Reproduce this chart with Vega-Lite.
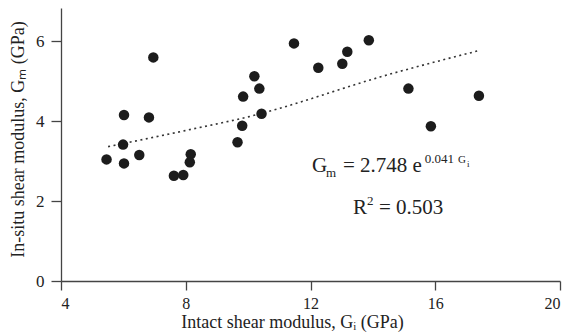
{
  "$schema": "https://vega.github.io/schema/vega-lite/v6.json",
  "width": 499,
  "height": 273,
  "autosize": {"type": "none"},
  "padding": {"left": 61, "top": 8, "right": 14, "bottom": 55},
  "background": "white",
  "config": {
    "view": {"stroke": null},
    "font": "Liberation Serif",
    "axis": {
      "grid": false,
      "domainColor": "#444",
      "tickColor": "#444",
      "domainWidth": 1.3,
      "tickWidth": 1.3,
      "labelColor": "#222",
      "titleColor": "#222",
      "labelFont": "Liberation Serif",
      "titleFont": "Liberation Serif",
      "labelFontSize": 17,
      "titleFontSize": 18,
      "titleFontWeight": "normal",
      "tickSize": 9
    }
  },
  "encoding": {
    "x": {
      "field": "x", "type": "quantitative",
      "scale": {"domain": [4, 20], "nice": false, "zero": false},
      "axis": {"values": [4, 8, 12, 16, 20], "labelPadding": 5, "labelFontSize": 16, "labelFont": "Liberation Serif",
        "title": "Intact shear modulus, Gᵢ (GPa)", "titleFont": "Liberation Serif",
        "titleX": 231, "titleY": 46, "titleBaseline": "alphabetic", "titleAlign": "center"}
    },
    "y": {
      "field": "y", "type": "quantitative",
      "scale": {"domain": [0, 6.825], "nice": false, "zero": false},
      "axis": {"values": [0, 2, 4, 6], "labelPadding": 7, "tickSize": 10, "labelFont": "Liberation Serif",
        "title": "In-situ shear modulus, Gₘ (GPa)", "titleFont": "Liberation Serif",
        "titleX": -43, "titleY": 131, "titleBaseline": "middle", "titleAlign": "center", "titleAngle": -90}
    }
  },
  "layer": [
    {
      "data": {"values": [
        {"x": 5.51, "y": 3.36},
        {"x": 7.98, "y": 3.76},
        {"x": 10.38, "y": 4.18},
        {"x": 11.02, "y": 4.32},
        {"x": 14.23, "y": 5.1},
        {"x": 17.4, "y": 5.76}
      ]},
      "mark": {"type": "line", "color": "#333", "strokeWidth": 1.6, "strokeDash": [2, 3.5], "interpolate": "monotone"}
    },
    {
      "data": {"values": [
        {"x": 6.96, "y": 5.59},
        {"x": 6.02, "y": 4.15},
        {"x": 6.82, "y": 4.09},
        {"x": 5.99, "y": 3.41},
        {"x": 5.46, "y": 3.04},
        {"x": 6.02, "y": 2.94},
        {"x": 6.51, "y": 3.15},
        {"x": 8.16, "y": 3.17},
        {"x": 8.13, "y": 2.97},
        {"x": 9.84, "y": 4.61},
        {"x": 9.81, "y": 3.88},
        {"x": 9.66, "y": 3.47},
        {"x": 10.2, "y": 5.12},
        {"x": 10.36, "y": 4.81},
        {"x": 10.43, "y": 4.18},
        {"x": 7.62, "y": 2.63},
        {"x": 7.92, "y": 2.65},
        {"x": 11.47, "y": 5.94},
        {"x": 12.25, "y": 5.33},
        {"x": 13.02, "y": 5.43},
        {"x": 13.18, "y": 5.73},
        {"x": 13.87, "y": 6.02},
        {"x": 15.14, "y": 4.81},
        {"x": 15.86, "y": 3.87},
        {"x": 17.4, "y": 4.63}
      ]},
      "mark": {"type": "point", "filled": true, "shape": "circle", "size": 110, "color": "#1c1c1c", "opacity": 1}
    },
    {
      "data": {"values": [
        {"x": 12.048, "y": 2.725, "t": "G"},
        {"x": 13.042, "y": 2.725, "t": "= 2.748 e"},
        {"x": 13.363, "y": 1.675, "t": "R"},
        {"x": 14.196, "y": 1.675, "t": "= 0.503"}
      ]},
      "mark": {"type": "text", "align": "left", "baseline": "alphabetic", "fontSize": 21, "font": "Liberation Serif", "color": "#222"},
      "encoding": {"text": {"field": "t"}}
    },
    {
      "data": {"values": [
        {"x": 12.497, "y": 2.6, "t": "m"},
        {"x": 15.66, "y": 2.95, "t": "0.041"},
        {"x": 13.812, "y": 1.9, "t": "2"}
      ]},
      "mark": {"type": "text", "align": "left", "baseline": "alphabetic", "fontSize": 13, "font": "Liberation Serif", "color": "#222"},
      "encoding": {"text": {"field": "t"}}
    },
    {
      "data": {"values": [
        {"x": 16.73, "y": 2.95, "t": "G"}
      ]},
      "mark": {"type": "text", "align": "left", "baseline": "alphabetic", "fontSize": 11, "font": "Liberation Serif", "color": "#222"},
      "encoding": {"text": {"field": "t"}}
    },
    {
      "data": {"values": [
        {"x": 17.02, "y": 2.86, "t": "i"}
      ]},
      "mark": {"type": "text", "align": "left", "baseline": "alphabetic", "fontSize": 9, "font": "Liberation Serif", "color": "#222"},
      "encoding": {"text": {"field": "t"}}
    }
  ]
}
